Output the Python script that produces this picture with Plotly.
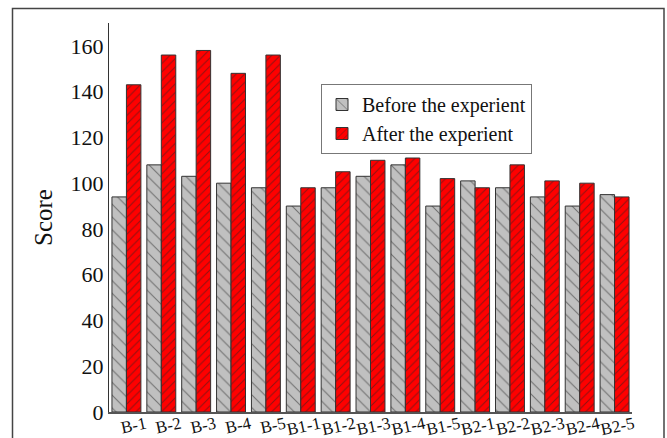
import plotly.graph_objects as go

categories = ["B-1", "B-2", "B-3", "B-4", "B-5", "B1-1", "B1-2", "B1-3", "B1-4", "B1-5",
              "B2-1", "B2-2", "B2-3", "B2-4", "B2-5"]
before = [94, 108, 103, 100, 98, 90, 98, 103, 108, 90, 101, 98, 94, 90, 95]
after = [143, 156, 158, 148, 156, 98, 105, 110, 111, 102, 98, 108, 101, 100, 94]
y_ticks = [0, 20, 40, 60, 80, 100, 120, 140, 160]

FONT = "Liberation Serif"

fig = go.Figure()
fig.add_trace(go.Bar(
    x=categories, y=before, name="Before the experient",
    marker=dict(color="#c0c0c0", line=dict(color="#333333", width=1),
                pattern=dict(shape="\\", fgcolor="#222222", bgcolor="#c0c0c0", size=9, solidity=0.12)),
))
fig.add_trace(go.Bar(
    x=categories, y=after, name="After the experient",
    marker=dict(color="#ff0000", line=dict(color="#333333", width=1),
                pattern=dict(shape="/", fgcolor="#222222", bgcolor="#ff0000", size=6, solidity=0.18)),
))

W, H = 667, 438
# plot area in reference pixels: x 109..632, y 23..412
L, R, T, B = 109, 667 - 632, 23, 438 - 412
pw, ph = W - L - R, H - T - B

def px(x):
    return (x - L) / pw

def py(y):
    return (H - B - y) / ph

fig.update_layout(
    width=W, height=H,
    margin=dict(l=L, r=R, t=T, b=B),
    paper_bgcolor="white", plot_bgcolor="white",
    barmode="group", bargap=0.17, bargroupgap=0,
    font=dict(family=FONT, color="#111111"),
    showlegend=True,
    legend=dict(x=px(321), y=py(84), xanchor="left", yanchor="top",
                bordercolor="#777777", borderwidth=1, bgcolor="white",
                font=dict(family=FONT, size=20), tracegroupgap=0,
                itemwidth=30),
    xaxis=dict(showline=True, linecolor="#555555", linewidth=2, ticks="",
               tickangle=-12, tickfont=dict(family=FONT, size=17), showgrid=False,
               automargin=False, ticklabelshift=19, ticklabelstandoff=-6),
    yaxis=dict(range=[0, 170], tickvals=y_ticks, showline=True, linecolor="#333333",
               linewidth=1, ticks="", showgrid=False, zeroline=False, automargin=False,
               tickfont=dict(family=FONT, size=22),
               title=dict(text="Score", font=dict(family=FONT, size=25), standoff=10)),
    shapes=[dict(type="rect", xref="paper", yref="paper",
                 x0=px(12.5), x1=px(664), y0=py(450), y1=py(8.5),
                 line=dict(color="#444444", width=1.5), fillcolor="rgba(0,0,0,0)")],
)

fig.write_html("out.html", config={"displayModeBar": False},
               post_script="document.body.style.margin='0';document.body.style.overflow='hidden';")
